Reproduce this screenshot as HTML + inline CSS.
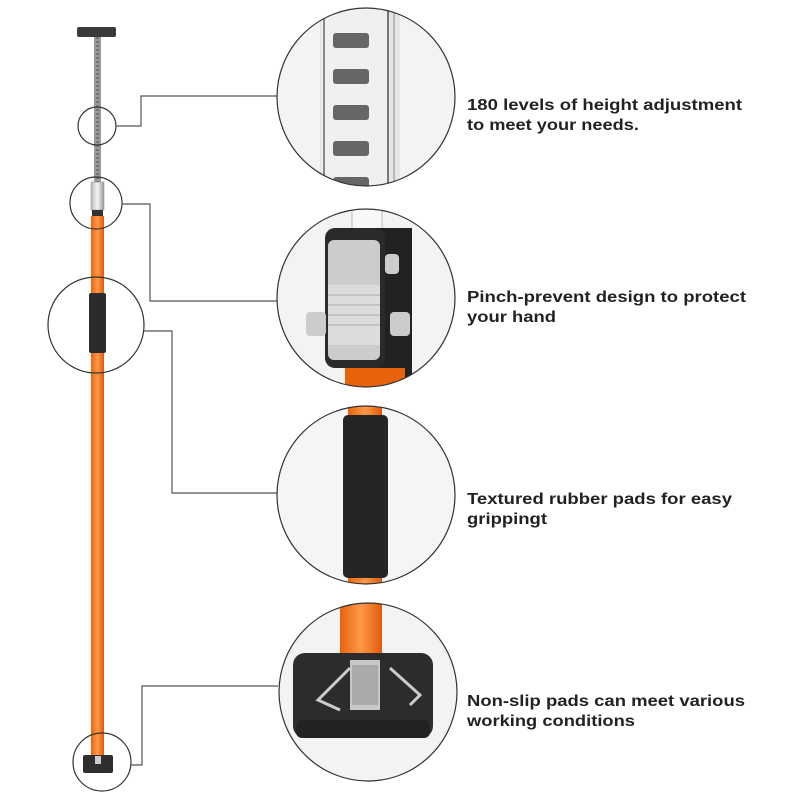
<!DOCTYPE html>
<html><head><meta charset="utf-8"><style>
html,body{margin:0;padding:0;background:#fff;}
svg{display:block}
text{font-family:"Liberation Sans",sans-serif;font-weight:bold;font-size:15.5px;fill:#222}
</style></head><body>
<svg width="800" height="800" viewBox="0 0 800 800" xmlns="http://www.w3.org/2000/svg">
<defs>
<clipPath id="c1"><circle cx="366" cy="97" r="89"/></clipPath>
<clipPath id="c2"><circle cx="366" cy="298" r="89"/></clipPath>
<clipPath id="c3"><circle cx="366" cy="495" r="89"/></clipPath>
<clipPath id="c4"><circle cx="368" cy="692" r="89"/></clipPath>
<linearGradient id="org" x1="0" x2="1"><stop offset="0" stop-color="#e8620c"/><stop offset="0.5" stop-color="#ff9a4a"/><stop offset="1" stop-color="#e05a08"/></linearGradient>
<linearGradient id="met" x1="0" x2="1"><stop offset="0" stop-color="#bbb"/><stop offset="0.5" stop-color="#f4f4f4"/><stop offset="1" stop-color="#999"/></linearGradient>
</defs>

<!-- pole -->
<rect x="77" y="27" width="39" height="10" rx="2" fill="#3a3a3a"/>
<rect x="94" y="37" width="7" height="145" fill="#999"/>
<line x1="97.5" y1="37" x2="97.5" y2="182" stroke="#666" stroke-width="2" stroke-dasharray="2 2"/>
<rect x="91" y="182" width="13" height="28" fill="url(#met)" stroke="#888" stroke-width="0.5"/>
<rect x="92" y="210" width="11" height="6" fill="#333"/>
<rect x="91" y="216" width="13" height="540" fill="url(#org)"/>
<rect x="89" y="293" width="17" height="60" rx="2" fill="#2b2b2b"/>
<rect x="83" y="755" width="30" height="18" rx="2" fill="#2e2e2e"/>
<rect x="95" y="756" width="6" height="8" fill="#ccc"/>

<!-- small circles -->
<g fill="none" stroke="#333" stroke-width="1.2">
<circle cx="97" cy="126" r="19"/>
<circle cx="96" cy="203" r="26"/>
<circle cx="96" cy="325" r="48"/>
<circle cx="102" cy="762" r="29"/>
</g>
<!-- connectors -->
<g fill="none" stroke="#555" stroke-width="1.2">
<polyline points="116,126 141,126 141,96 277,96"/>
<polyline points="122,204 150,204 150,301 277,301"/>
<polyline points="144,331 172,331 172,493 277,493"/>
<polyline points="131,765 142,765 142,686 278,686"/>
</g>

<!-- big circle 1 -->
<circle cx="366" cy="97" r="89" fill="#f3f3f3"/>
<g clip-path="url(#c1)">
<rect x="320" y="0" width="80" height="200" fill="#e6e6e6"/>
<rect x="322" y="0" width="66" height="200" fill="#f0f0f0"/>
<line x1="324" y1="0" x2="324" y2="200" stroke="#888" stroke-width="2"/>
<line x1="388" y1="0" x2="388" y2="200" stroke="#777" stroke-width="2"/>
<line x1="394" y1="0" x2="394" y2="200" stroke="#aaa" stroke-width="1.5"/>
<rect x="333" y="33" width="36" height="15" rx="3" fill="#666"/>
<rect x="333" y="69" width="36" height="15" rx="3" fill="#666"/>
<rect x="333" y="105" width="36" height="15" rx="3" fill="#666"/>
<rect x="333" y="141" width="36" height="15" rx="3" fill="#666"/>
<rect x="333" y="177" width="36" height="15" rx="3" fill="#666"/>
</g>
<circle cx="366" cy="97" r="89" fill="none" stroke="#333" stroke-width="1.2"/>

<!-- big circle 2 -->
<circle cx="366" cy="298" r="89" fill="#f3f3f3"/>
<g clip-path="url(#c2)">
<rect x="352" y="205" width="30" height="30" fill="#f8f8f8" stroke="#bbb"/>
<rect x="376" y="228" width="36" height="150" fill="#222"/>
<rect x="325" y="228" width="60" height="140" rx="10" fill="#2a2a2a"/>
<rect x="328" y="240" width="52" height="120" rx="6" fill="#ccc"/>
<rect x="328" y="285" width="52" height="60" fill="#dcdcdc"/>
<g stroke="#aaa"><line x1="328" y1="295" x2="380" y2="295"/><line x1="328" y1="305" x2="380" y2="305"/><line x1="328" y1="315" x2="380" y2="315"/><line x1="328" y1="325" x2="380" y2="325"/></g>
<rect x="306" y="312" width="20" height="24" rx="4" fill="#ccc"/>
<rect x="390" y="312" width="20" height="24" rx="4" fill="#ccc"/>
<rect x="385" y="254" width="14" height="20" rx="4" fill="#ccc"/>
<rect x="345" y="368" width="60" height="20" fill="#e8620c"/>
</g>
<circle cx="366" cy="298" r="89" fill="none" stroke="#333" stroke-width="1.2"/>

<!-- big circle 3 -->
<circle cx="366" cy="495" r="89" fill="#f5f5f5"/>
<g clip-path="url(#c3)">
<rect x="348" y="400" width="34" height="200" fill="url(#org)"/>
<rect x="343" y="415" width="45" height="163" rx="5" fill="#252525"/>
</g>
<circle cx="366" cy="495" r="89" fill="none" stroke="#333" stroke-width="1.2"/>

<!-- big circle 4 -->
<circle cx="368" cy="692" r="89" fill="#f3f3f3"/>
<g clip-path="url(#c4)">
<rect x="340" y="600" width="42" height="65" fill="url(#org)"/>
<rect x="293" y="653" width="140" height="85" rx="12" fill="#2c2c2c"/>
<rect x="296" y="720" width="134" height="18" rx="6" fill="#222"/>
<path d="M350 668 L318 700 L340 710 M390 668 L420 695 L410 705" fill="none" stroke="#ccc" stroke-width="3"/>
<rect x="350" y="660" width="30" height="50" fill="#c8c8c8"/>
<rect x="352" y="665" width="26" height="40" fill="#aaa"/>
</g>
<circle cx="368" cy="692" r="89" fill="none" stroke="#333" stroke-width="1.2"/>

<!-- labels -->
<text x="467" y="110" textLength="275" lengthAdjust="spacingAndGlyphs">180 levels of height adjustment</text>
<text x="467" y="130" textLength="172" lengthAdjust="spacingAndGlyphs">to meet your needs.</text>
<text x="467" y="302" textLength="279" lengthAdjust="spacingAndGlyphs">Pinch-prevent design to protect</text>
<text x="467" y="322" textLength="89" lengthAdjust="spacingAndGlyphs">your hand</text>
<text x="467" y="504" textLength="265" lengthAdjust="spacingAndGlyphs">Textured rubber pads for easy</text>
<text x="467" y="524" textLength="80" lengthAdjust="spacingAndGlyphs">grippingt</text>
<text x="467" y="706" textLength="278" lengthAdjust="spacingAndGlyphs">Non-slip pads can meet various</text>
<text x="467" y="726" textLength="168" lengthAdjust="spacingAndGlyphs">working conditions</text>
</svg>
</body></html>
